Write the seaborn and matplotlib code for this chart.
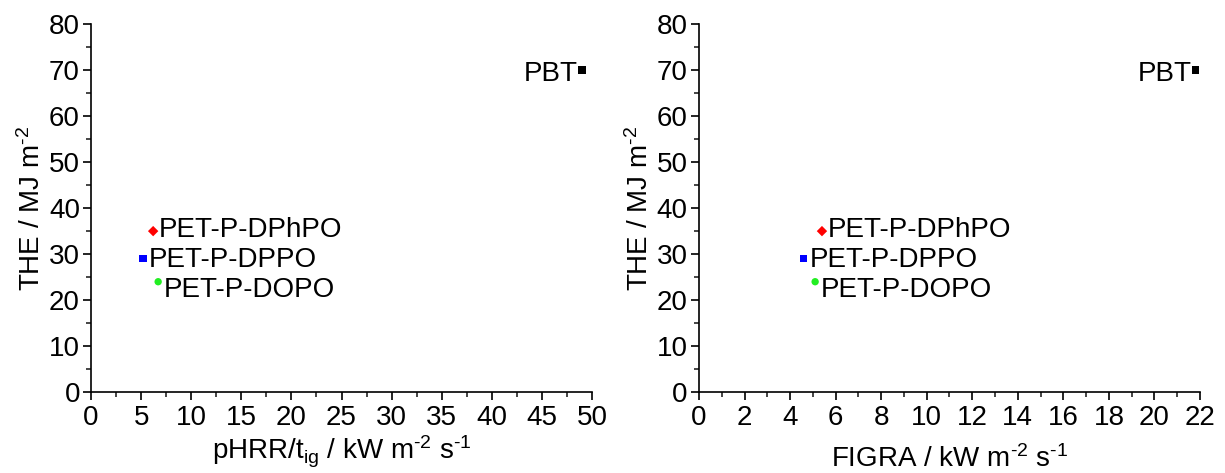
import pandas as pd
import matplotlib
matplotlib.use("Agg")
import matplotlib.pyplot as plt
from matplotlib.ticker import MultipleLocator
import seaborn as sns

# samples and values
samples = ["PBT", "PET-P-DPhPO", "PET-P-DPPO", "PET-P-DOPO"]
the_values = [70, 35, 29, 24]
phrr_tig = [49.0, 6.2, 5.2, 6.7]
figra = [21.8, 5.4, 4.6, 5.1]

colors = {"PBT": "black", "PET-P-DPhPO": "#ff0000", "PET-P-DPPO": "#0000ff", "PET-P-DOPO": "#22ee22"}
markers = {"PBT": "s", "PET-P-DPhPO": "D", "PET-P-DPPO": "s", "PET-P-DOPO": "o"}
# label offsets in points, and alignment
label_pos = {"PBT": (-3, -3, "right"), "PET-P-DPhPO": (4, 1, "left"),
             "PET-P-DPPO": (4, -1, "left"), "PET-P-DOPO": (4, -6, "left")}

df = pd.DataFrame({"sample": samples, "THE": the_values, "pHRR_tig": phrr_tig, "FIGRA": figra})

sns.set_style("ticks")
plt.rcParams["font.family"] = ["Liberation Sans", "DejaVu Sans"]
plt.rcParams["mathtext.fontset"] = "custom"
plt.rcParams["mathtext.rm"] = "Liberation Sans"
plt.rcParams["mathtext.it"] = "Liberation Sans"
plt.rcParams["text.color"] = "black"
plt.rcParams["axes.labelcolor"] = "black"

FS = 20

fig = plt.figure(figsize=(12.25, 4.73), dpi=100)
ax1 = fig.add_axes([0.0743, 0.171, 0.409, 0.778])
ax2 = fig.add_axes([0.5706, 0.171, 0.409, 0.778])

def draw(ax, xcol, xmax, xmajor, xlabel, xpad):
    sns.scatterplot(data=df, x=xcol, y="THE", hue="sample", style="sample",
                    palette=colors, markers=markers, s=28, linewidth=0,
                    legend=False, ax=ax, clip_on=False)
    for _, r in df.iterrows():
        dx, dy, ha = label_pos[r["sample"]]
        ax.annotate(r["sample"], (r[xcol], r["THE"]), xytext=(dx, dy),
                    textcoords="offset points", ha=ha, va="center", fontsize=FS)
    ax.set_xlim(0, xmax)
    ax.set_ylim(0, 80)
    ax.xaxis.set_major_locator(MultipleLocator(xmajor))
    ax.xaxis.set_minor_locator(MultipleLocator(xmajor / 2))
    ax.yaxis.set_major_locator(MultipleLocator(10))
    ax.yaxis.set_minor_locator(MultipleLocator(5))
    ax.tick_params(which="major", direction="out", length=6, width=1.2, labelsize=FS, colors="black")
    ax.tick_params(which="minor", direction="out", length=3.5, width=1.2)
    ax.tick_params(axis="y", pad=2)
    for side in ["left", "bottom"]:
        ax.spines[side].set_linewidth(1.2)
        ax.spines[side].set_color("black")
    sns.despine(ax=ax)
    ax.set_xlabel(xlabel, fontsize=FS, labelpad=xpad)
    ax.set_ylabel(r"THE / MJ m$^{\text{-2}}$", fontsize=FS, labelpad=2)

draw(ax1, "pHRR_tig", 50, 5, r"pHRR/t$_{\text{ig}}$ / kW m$^{\text{-2}}$ s$^{\text{-1}}$", 2)
draw(ax2, "FIGRA", 22, 2, r"FIGRA / kW m$^{\text{-2}}$ s$^{\text{-1}}$", 10)

fig.savefig("out.png", dpi=100)
